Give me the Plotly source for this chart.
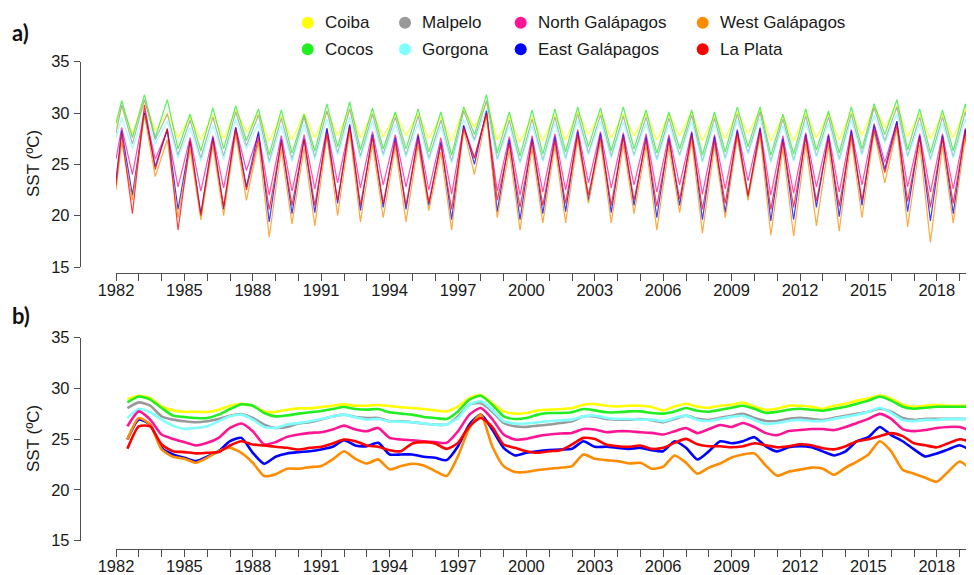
import plotly.graph_objects as go

W, H = 974, 575

sites = ["Coiba", "Cocos", "Malpelo", "Gorgona", "North Galápagos",
         "East Galápagos", "West Galápagos", "La Plata"]
colors = ["#FFFF00", "#22EE22", "#999999", "#80FFFF", "#FF1493",
          "#0000FF", "#FF8C00", "#FF0000"]

# ---------------- panel a: seasonal peaks / troughs
years_a = list(range(1982, 2020))
start_a = [28.5, 29.0, 28.0, 27.5, 25.5, 23.5, 22.5, 23.0]
end_a = [28.8, 28.8, 28.2, 27.8, 26.5, 25.5, 24.5, 24.0]

peaks_coiba = [30.6, 31.2, 30.0, 29.6, 29.8, 30.3, 29.9, 29.7, 29.9, 30.2, 30.4, 30.0, 29.9, 29.9, 29.6, 30.4, 31.0, 29.6, 29.6, 29.8, 30.1, 30.0, 29.9, 29.9, 29.8, 30.1, 29.7, 30.1, 30.3, 29.7, 30.0, 29.9, 30.1, 30.6, 30.7, 29.9, 29.9, 30.4]
trough_coiba = [28.0, 28.3, 27.6, 27.4, 27.5, 28.2, 27.3, 27.4, 27.6, 27.8, 27.6, 27.7, 27.8, 27.5, 27.3, 28.6, 27.4, 27.2, 27.3, 27.4, 27.9, 27.6, 27.8, 27.4, 27.8, 27.3, 27.5, 28.0, 27.3, 27.3, 27.6, 27.4, 27.8, 28.6, 27.7, 27.5, 27.6]
peaks_cocos = [31.2, 31.8, 31.3, 29.9, 30.5, 30.7, 30.4, 30.3, 29.9, 30.9, 31.1, 30.5, 30.1, 30.4, 30.1, 30.6, 31.8, 30.1, 30.3, 30.4, 30.6, 30.5, 30.6, 30.3, 30.1, 30.3, 30.1, 30.6, 30.6, 29.9, 30.4, 30.2, 30.6, 30.9, 31.3, 30.4, 30.3, 30.9]
trough_cocos = [27.6, 27.6, 26.5, 26.3, 26.5, 27.3, 25.9, 26.1, 26.3, 26.7, 26.4, 26.5, 26.5, 26.2, 25.9, 27.9, 26.1, 25.8, 26.0, 26.2, 26.7, 26.3, 26.5, 26.1, 26.5, 25.9, 26.2, 26.7, 25.9, 26.0, 26.4, 26.1, 26.5, 27.9, 26.4, 26.1, 26.3]
peaks_malpelo = [30.8, 31.3, 29.9, 29.3, 29.6, 30.1, 29.8, 29.5, 29.6, 30.2, 30.4, 29.9, 29.6, 29.7, 29.3, 30.2, 31.2, 29.3, 29.4, 29.6, 29.9, 29.8, 29.7, 29.6, 29.5, 29.8, 29.5, 29.9, 30.1, 29.4, 29.7, 29.6, 29.9, 30.5, 30.6, 29.6, 29.6, 30.1]
trough_malpelo = [27.0, 27.4, 25.9, 25.6, 25.8, 26.8, 25.3, 25.5, 25.7, 26.1, 25.8, 26.0, 25.9, 25.6, 25.3, 27.4, 25.5, 25.2, 25.4, 25.6, 26.1, 25.8, 25.9, 25.5, 25.9, 25.3, 25.6, 26.1, 25.3, 25.4, 25.8, 25.5, 26.0, 27.3, 25.8, 25.5, 25.7]
peaks_gorgona = [29.6, 30.2, 29.2, 28.6, 28.8, 29.4, 29.0, 28.8, 28.9, 29.4, 29.6, 29.2, 28.9, 29.0, 28.7, 29.4, 30.4, 28.7, 28.8, 29.0, 29.3, 29.2, 29.1, 29.0, 28.9, 29.2, 28.9, 29.3, 29.5, 28.8, 29.1, 29.0, 29.3, 29.8, 29.9, 29.0, 29.0, 29.4]
trough_gorgona = [26.5, 27.0, 25.6, 25.3, 25.5, 26.5, 25.1, 25.3, 25.5, 25.9, 25.6, 25.8, 25.7, 25.4, 25.1, 27.2, 25.4, 25.1, 25.3, 25.5, 25.9, 25.6, 25.8, 25.4, 25.8, 25.2, 25.5, 26.0, 25.2, 25.3, 25.7, 25.4, 25.9, 27.1, 25.7, 25.4, 25.6]
peaks_north = [28.6, 30.2, 28.3, 27.6, 27.8, 28.6, 28.0, 27.8, 27.9, 28.5, 28.8, 28.2, 27.9, 28.0, 27.6, 28.8, 30.0, 27.7, 27.8, 28.0, 28.4, 28.2, 28.1, 28.0, 27.9, 28.2, 27.9, 28.4, 28.6, 27.8, 28.1, 28.0, 28.4, 29.0, 29.2, 28.0, 28.0, 28.5]
trough_north = [24.0, 25.5, 22.8, 22.4, 22.7, 24.4, 22.0, 22.4, 22.6, 23.2, 22.7, 23.0, 22.8, 22.5, 22.1, 25.6, 22.4, 22.0, 22.3, 22.5, 23.2, 22.7, 23.0, 22.3, 23.0, 22.1, 22.6, 23.4, 22.0, 22.2, 22.8, 22.3, 23.0, 25.2, 22.8, 22.3, 22.6]
peaks_east = [28.3, 30.0, 28.4, 27.3, 27.6, 28.6, 28.2, 27.4, 27.5, 28.5, 28.9, 27.9, 27.6, 27.8, 27.2, 28.8, 30.2, 27.4, 27.5, 27.7, 28.2, 28.0, 27.9, 27.7, 27.6, 28.1, 27.7, 28.3, 28.5, 27.5, 27.9, 27.8, 28.3, 28.8, 29.2, 27.8, 27.8, 28.4]
trough_east = [22.0, 24.8, 20.6, 20.2, 20.6, 22.8, 19.4, 20.2, 20.3, 21.2, 20.5, 20.8, 20.6, 21.0, 19.6, 25.0, 20.4, 19.6, 20.2, 20.4, 21.5, 20.3, 21.0, 19.8, 21.0, 19.6, 20.3, 21.8, 19.5, 19.6, 20.8, 19.9, 21.0, 24.5, 20.4, 19.5, 20.2]
peaks_west = [27.2, 29.8, 27.4, 26.5, 26.8, 28.0, 27.2, 26.5, 26.6, 27.8, 28.2, 27.0, 26.7, 26.9, 26.2, 28.4, 29.8, 26.4, 26.6, 26.8, 27.5, 27.2, 27.0, 26.8, 26.7, 27.3, 26.8, 27.6, 27.8, 26.6, 27.0, 26.9, 27.5, 28.2, 28.5, 26.9, 26.9, 27.6]
trough_west = [21.5, 23.8, 19.8, 19.6, 20.0, 21.5, 17.9, 19.2, 19.0, 20.0, 19.4, 19.8, 19.4, 20.5, 18.6, 24.0, 19.8, 18.6, 19.3, 19.3, 21.2, 19.3, 20.2, 18.6, 20.3, 18.3, 19.8, 21.5, 18.1, 18.0, 19.0, 18.5, 19.8, 23.2, 18.9, 17.4, 19.3]
peaks_plata = [28.0, 30.8, 28.5, 27.3, 27.4, 28.4, 27.6, 27.2, 27.4, 28.0, 28.6, 27.6, 27.2, 27.4, 26.9, 28.5, 30.0, 27.0, 27.2, 27.3, 27.9, 27.6, 27.6, 27.4, 27.3, 27.8, 27.3, 28.0, 28.2, 27.2, 27.6, 27.4, 27.9, 28.4, 28.8, 27.6, 27.5, 28.2]
trough_plata = [20.2, 24.5, 18.6, 20.0, 20.9, 22.5, 20.6, 21.0, 21.0, 21.5, 21.0, 21.2, 21.0, 21.3, 20.6, 25.6, 21.5, 20.8, 21.0, 21.2, 22.0, 21.0, 21.5, 20.9, 21.6, 20.6, 21.2, 22.0, 20.6, 20.8, 21.4, 20.9, 21.5, 24.2, 21.4, 20.8, 21.2]

peaks_a = [peaks_coiba, peaks_cocos, peaks_malpelo, peaks_gorgona,
           peaks_north, peaks_east, peaks_west, peaks_plata]
troughs_a = [trough_coiba, trough_cocos, trough_malpelo, trough_gorgona,
             trough_north, trough_east, trough_west, trough_plata]

# ---------------- panel b: smoothed series (half-year samples)
t_b = [1982.5 + 0.5 * i for i in range(74)] + [2019.4]

b_coiba = [28.95, 29.28, 29.05, 28.23, 27.84, 27.71, 27.71, 27.68, 27.91, 28.3, 28.5, 28.3, 27.74, 27.68, 27.91, 28.04, 28.04, 28.17, 28.3, 28.43, 28.3, 28.3, 28.37, 28.27,
           28.15, 28.07, 27.97, 27.84, 27.74, 28.23, 29.05, 29.35, 28.56, 27.74, 27.52, 27.58, 27.84, 27.91, 27.97, 28.07, 28.4, 28.46, 28.3, 28.23, 28.3, 28.3, 28.17, 27.84, 28.23, 28.5,
           28.2, 28.1, 28.3, 28.4, 28.6, 28.2, 27.9, 28.0, 28.3, 28.3, 28.2, 28.0, 28.3, 28.5, 28.8, 29.0, 29.3, 29.0, 28.4, 28.2, 28.3, 28.4, 28.3, 28.3, 28.3]
b_cocos = [28.63, 29.2, 28.9, 28.07, 27.32, 27.19, 27.09, 27.09, 27.42, 27.97, 28.43, 28.3, 27.58, 27.25, 27.35, 27.52, 27.65, 27.78, 27.97, 28.17, 27.97, 27.91, 27.97, 27.65,
           27.52, 27.42, 27.19, 27.09, 26.99, 27.74, 28.89, 29.28, 28.4, 27.25, 26.99, 27.09, 27.42, 27.58, 27.58, 27.65, 27.97, 27.84, 27.65, 27.65, 27.74, 27.74, 27.58, 27.52, 27.74, 28.07,
           27.8, 27.7, 27.9, 28.1, 28.3, 28.0, 27.6, 27.7, 27.9, 28.0, 27.9, 27.8, 28.0, 28.2, 28.5, 28.8, 29.2, 28.8, 28.2, 28.0, 28.1, 28.2, 28.2, 28.2, 28.2]
b_malpelo = [28.07, 28.63, 28.3, 27.25, 26.93, 26.77, 26.67, 26.77, 26.99, 27.32, 27.48, 27.09, 26.44, 26.11, 26.21, 26.54, 26.67, 26.93, 27.25, 27.42, 27.19, 27.09, 27.09, 26.77,
             26.77, 26.67, 26.54, 26.44, 26.44, 27.25, 28.4, 28.56, 27.74, 26.6, 26.27, 26.21, 26.34, 26.44, 26.6, 26.77, 27.25, 27.25, 26.99, 26.93, 26.93, 26.99, 26.86, 26.67, 26.99, 27.32,
             27.0, 26.9, 27.1, 27.3, 27.5, 27.1, 26.8, 26.8, 27.0, 27.1, 27.0, 26.9, 27.1, 27.3, 27.5, 27.7, 28.0, 27.7, 27.1, 26.9, 27.0, 27.0, 27.0, 27.0, 27.0]
b_gorgona = [27.09, 27.97, 27.65, 26.93, 26.34, 26.01, 26.11, 26.27, 26.77, 27.25, 27.42, 26.93, 26.21, 26.11, 26.44, 26.6, 26.77, 26.99, 27.25, 27.42, 27.16, 26.93, 26.99, 26.77,
             26.72, 26.67, 26.54, 26.44, 26.44, 27.09, 28.4, 28.73, 27.91, 26.77, 26.54, 26.54, 26.67, 26.77, 26.86, 26.93, 27.25, 27.32, 27.09, 26.99, 26.99, 26.93, 26.93, 26.77, 27.09, 27.32,
             26.9, 26.8, 27.0, 27.2, 27.3, 26.9, 26.5, 26.6, 26.8, 26.9, 26.8, 26.8, 27.0, 27.2, 27.4, 27.7, 28.1, 27.6, 26.9, 26.8, 26.9, 26.9, 27.0, 27.0, 27.0]
b_north = [26.27, 27.74, 26.93, 25.46, 25.03, 24.71, 24.38, 24.64, 25.13, 26.11, 26.54, 25.78, 24.48, 24.71, 25.23, 25.46, 25.62, 25.69, 25.95, 26.34, 25.95, 25.78, 26.11, 25.13,
           24.97, 24.9, 24.8, 24.71, 24.64, 25.78, 27.42, 28.07, 26.99, 25.46, 24.97, 25.03, 25.3, 25.46, 25.56, 25.62, 26.01, 25.95, 25.69, 25.78, 25.78, 25.69, 25.62, 25.46, 25.78, 26.11,
           25.6, 26.0, 26.4, 26.2, 26.6, 26.2, 25.6, 25.4, 25.8, 25.9, 26.0, 26.0, 25.9, 26.2, 26.6, 27.0, 27.5, 27.0, 26.0, 25.8, 25.9, 26.1, 26.2, 26.2, 25.9]
b_east = [24.97, 26.93, 26.44, 24.15, 23.5, 23.17, 22.84, 23.27, 23.82, 24.8, 25.13, 23.66, 22.58, 23.27, 23.6, 23.73, 23.82, 23.99, 24.25, 24.9, 24.38, 24.31, 24.64, 23.5,
          23.5, 23.5, 23.27, 23.17, 22.94, 24.31, 26.44, 27.42, 25.95, 24.15, 23.4, 23.66, 23.82, 23.92, 23.99, 24.05, 24.8, 24.25, 24.25, 24.15, 24.05, 24.15, 23.92, 23.82, 24.8, 24.15,
          23.0, 23.8, 24.8, 24.6, 24.8, 25.2, 24.3, 23.8, 24.2, 24.3, 24.2, 23.8, 23.4, 23.8, 24.8, 25.2, 26.2, 25.4, 24.8, 24.0, 23.3, 23.6, 24.0, 24.4, 24.0]
b_west = [24.97, 27.09, 26.44, 23.99, 23.27, 23.07, 22.68, 23.17, 23.82, 24.15, 23.66, 22.68, 21.37, 21.54, 22.09, 22.09, 22.25, 22.35, 23.01, 23.82, 23.07, 22.61, 23.01, 22.03,
          22.35, 22.58, 22.42, 21.86, 21.37, 23.33, 26.11, 27.42, 24.31, 22.35, 21.77, 21.77, 21.96, 22.09, 22.19, 22.35, 23.5, 23.07, 22.94, 22.84, 22.61, 22.68, 22.09, 22.29, 23.4, 22.68,
          21.6, 22.2, 22.6, 23.2, 23.5, 23.6, 22.4, 21.4, 21.8, 22.0, 22.2, 22.1, 21.5, 22.2, 22.8, 23.5, 24.8, 23.8, 22.0, 21.6, 21.2, 20.8, 21.8, 22.8, 22.2]
b_plata = [24.05, 26.27, 26.27, 24.48, 23.82, 23.73, 23.6, 23.66, 23.73, 24.38, 24.8, 24.48, 24.38, 24.25, 24.15, 23.99, 24.15, 24.25, 24.58, 24.97, 24.8, 24.38, 24.25, 23.92,
           23.82, 24.58, 24.71, 24.58, 24.05, 24.64, 26.27, 27.09, 26.21, 24.48, 24.15, 23.82, 23.66, 23.82, 23.92, 24.48, 25.13, 25.03, 24.48, 24.31, 24.25, 24.38, 24.05, 24.15, 24.64, 25.03,
           24.5, 24.3, 24.3, 24.2, 24.3, 24.6, 24.4, 24.2, 24.3, 24.5, 24.4, 24.1, 24.0, 24.3, 24.8, 25.0, 25.3, 25.6, 25.3, 24.6, 24.4, 24.2, 24.6, 25.0, 24.8]

series_b = [b_coiba, b_cocos, b_malpelo, b_gorgona, b_north, b_east, b_west, b_plata]

year_ticks = list(range(1982, 2021))
year_labels = [str(y) if (y - 1982) % 3 == 0 else "" for y in year_ticks]
y_ticks = [15, 20, 25, 30, 35]

# ---------------- layout helpers (window pixel -> paper); page body adds 8 px
OFF = 8

def px(x):
    return (x - OFF) / W

def py(y):
    return 1 - (y - OFF) / H

X0, X_PER_YEAR = 116, 22.8
x_range = [1982, 1982 + (974 - X0) / X_PER_YEAR]

fig = go.Figure()

for i, name in enumerate(sites):
    t, v = [1982.0], [start_a[i]]
    for k, yr in enumerate(years_a):
        t.append(yr + 0.25)
        v.append(peaks_a[i][k])
        if k < len(troughs_a[i]):
            t.append(yr + 0.72)
            v.append(troughs_a[i][k])
    t.append(2019.45)
    v.append(end_a[i])
    fig.add_trace(go.Scatter(x=t, y=v, mode="lines", name=name,
                             line=dict(color=colors[i], width=1.2),
                             opacity=0.75, showlegend=False,
                             xaxis="x", yaxis="y"))

for i in range(len(sites)):
    fig.add_trace(go.Scatter(x=t_b, y=series_b[i], mode="lines", name=sites[i],
                             line=dict(color=colors[i], width=2.6, shape="spline",
                                       smoothing=0.6),
                             showlegend=False, xaxis="x2", yaxis="y2"))

axis_col = "#4d4d4d"
tickfont = dict(family="Liberation Sans, Arial, sans-serif", size=16.5, color="#1a1a1a")

xcommon = dict(range=x_range, domain=[px(X0), px(974)], tickmode="array",
               tickvals=year_ticks, ticktext=year_labels, ticks="outside",
               ticklen=7, tickwidth=1.3, tickcolor=axis_col, showline=True,
               linecolor=axis_col, linewidth=1.3, showgrid=False, zeroline=False,
               tickfont=tickfont, anchor="free", automargin=False,
               ticklabelstandoff=-5)
ycommon = dict(range=[15, 35], tickmode="array", tickvals=y_ticks,
               ticks="outside", ticklen=6, tickwidth=1.3, tickcolor=axis_col,
               showline=True, linecolor=axis_col, linewidth=1.3, showgrid=False,
               zeroline=False, tickfont=tickfont, anchor="free", position=px(80),
               automargin=False, ticklabelstandoff=1)

fig.update_layout(
    template="none",
    width=W, height=H, margin=dict(l=0, r=0, t=0, b=0, pad=0, autoexpand=False),
    paper_bgcolor="white", plot_bgcolor="white", showlegend=False,
    xaxis=dict(**xcommon, position=py(273)),
    yaxis=dict(**ycommon, domain=[py(267), py(61.7)]),
    xaxis2=dict(**xcommon, position=py(549)),
    yaxis2=dict(**ycommon, domain=[py(540.7), py(337.7)]),
)

annotations = []
shapes = []
txtfont = dict(family="Liberation Sans, Arial, sans-serif", size=17, color="#1a1a1a")
for ymid in [164, 439]:
    annotations.append(dict(text="SST (ºC)", x=px(33), y=py(ymid), xref="paper",
                            yref="paper", textangle=-90, showarrow=False,
                            font=txtfont, xanchor="center", yanchor="middle"))
for lbl, yy in [("a)", 32), ("b)", 315)]:
    annotations.append(dict(text="<b>" + lbl + "</b>", x=px(10), y=py(yy),
                            xref="paper", yref="paper", showarrow=False,
                            xanchor="left", yanchor="middle",
                            font=dict(family="Lato, Open Sans, sans-serif",
                                      size=22, color="#111111")))

# manual legend: column-major 4 x 2
leg_cols_x = [307.7, 405, 520.7, 702.7]
leg_rows_y = [22.7, 49.3]
r = 6
for i, name in enumerate(sites):
    c, rw = divmod(i, 2)
    cx, cy = leg_cols_x[c], leg_rows_y[rw]
    shapes.append(dict(type="circle", xref="paper", yref="paper",
                       x0=px(cx - r), x1=px(cx + r), y0=py(cy + r), y1=py(cy - r),
                       fillcolor=colors[i], line=dict(width=0)))
    annotations.append(dict(text=name, x=px(cx + 15), y=py(cy), xref="paper",
                            yref="paper", showarrow=False, xanchor="left",
                            yanchor="middle", font=txtfont))

fig.update_layout(annotations=annotations, shapes=shapes)
fig.write_html("out.html")
